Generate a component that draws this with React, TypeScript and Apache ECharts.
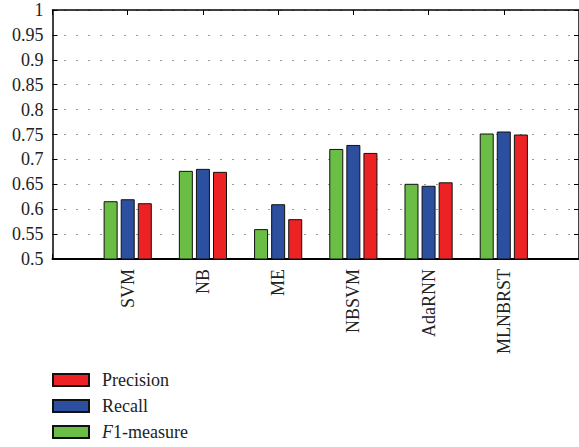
import React, { useEffect, useRef } from "react";
import * as echarts from "echarts";

const categories = ["SVM", "NB", "ME", "NBSVM", "AdaRNN", "MLNBRST"];
const f1Values = [0.616, 0.677, 0.56, 0.721, 0.651, 0.752];
const recallValues = [0.62, 0.681, 0.61, 0.729, 0.647, 0.756];
const precisionValues = [0.612, 0.675, 0.58, 0.713, 0.654, 0.75];
const legendNames = ["Precision", "Recall", "F1-measure"];

const FONT = "Liberation Serif";
const FS = 18;

export default function App() {
  const ref = useRef<HTMLDivElement>(null);
  useEffect(() => {
    document.body.style.margin = "0";
    const chart = echarts.init(ref.current!, undefined, { renderer: "svg" });
    const toPts = (vals: number[]) => vals.map((v, i) => [i + 1, v]);
    const barStyle = (color: string) => ({
      color,
      borderColor: "#111",
      borderWidth: 1,
    });
    const tick = { show: true, inside: true, length: 5, lineStyle: { color: "#000", width: 1 } };
    chart.setOption({
      animation: false,
      grid: { left: 52.5, right: -3, top: 10, bottom: 188 },
      legend: {
        orient: "vertical",
        left: 52,
        top: 371,
        padding: 0,
        data: legendNames,
        icon: "rect",
        itemWidth: 36,
        itemHeight: 12,
        itemGap: 8,
        textStyle: {
          fontFamily: FONT,
          fontSize: FS,
          color: "#222",
          lineHeight: 18,
          padding: [0, 0, 0, 8],
          rich: {
            i: { fontFamily: FONT, fontSize: FS, fontStyle: "italic", color: "#222", lineHeight: 18 },
            n: { fontFamily: FONT, fontSize: FS, color: "#222", lineHeight: 18 },
          },
        },
        formatter: (name: string) =>
          name === "F1-measure" ? "{i|F}{n|1-measure}" : name,
      },
      xAxis: [
        {
          type: "value",
          min: 0,
          max: 7,
          interval: 1,
          position: "bottom",
          axisLine: { onZero: false, lineStyle: { color: "#000", width: 2 } },
          axisTick: tick,
          splitLine: { show: false },
          axisLabel: {
            rotate: 90,
            margin: 10,
            fontFamily: FONT,
            fontSize: FS,
            color: "#222",
            formatter: (v: number) => categories[v - 1] ?? "",
          },
        },
        {
          type: "value",
          min: 0,
          max: 7,
          interval: 1,
          position: "top",
          axisLine: { show: true, onZero: false, lineStyle: { color: "#000", width: 1.5 } },
          axisTick: tick,
          splitLine: { show: false },
          axisLabel: { show: false },
        },
      ],
      yAxis: [
        {
          type: "value",
          min: 0.5,
          max: 1,
          interval: 0.05,
          position: "left",
          axisLine: { show: true, onZero: false, lineStyle: { color: "#000", width: 1.5 } },
          axisTick: tick,
          splitLine: {
            show: true,
            lineStyle: { color: "#333", width: 1, type: [1, 11] },
          },
          axisLabel: {
            margin: 9,
            fontFamily: FONT,
            fontSize: FS,
            color: "#222",
          },
        },
        {
          type: "value",
          min: 0.5,
          max: 1,
          interval: 0.05,
          position: "right",
          axisLine: { show: true, onZero: false, lineStyle: { color: "#000", width: 1.5 } },
          axisTick: tick,
          splitLine: { show: false },
          axisLabel: { show: false },
        },
      ],
      series: [
        {
          name: "F1-measure",
          type: "bar",
          data: toPts(f1Values),
          barWidth: 14,
          barGap: "22%",
          itemStyle: barStyle("#6abd45"),
        },
        {
          name: "Recall",
          type: "bar",
          data: toPts(recallValues),
          barWidth: 14,
          barGap: "22%",
          itemStyle: barStyle("#2d4f9f"),
        },
        {
          name: "Precision",
          type: "bar",
          data: toPts(precisionValues),
          barWidth: 14,
          barGap: "22%",
          itemStyle: barStyle("#ed2224"),
        },
      ],
    });
    return () => chart.dispose();
  }, []);
  return <div ref={ref} style={{ width: 579, height: 447 }} />;
}
